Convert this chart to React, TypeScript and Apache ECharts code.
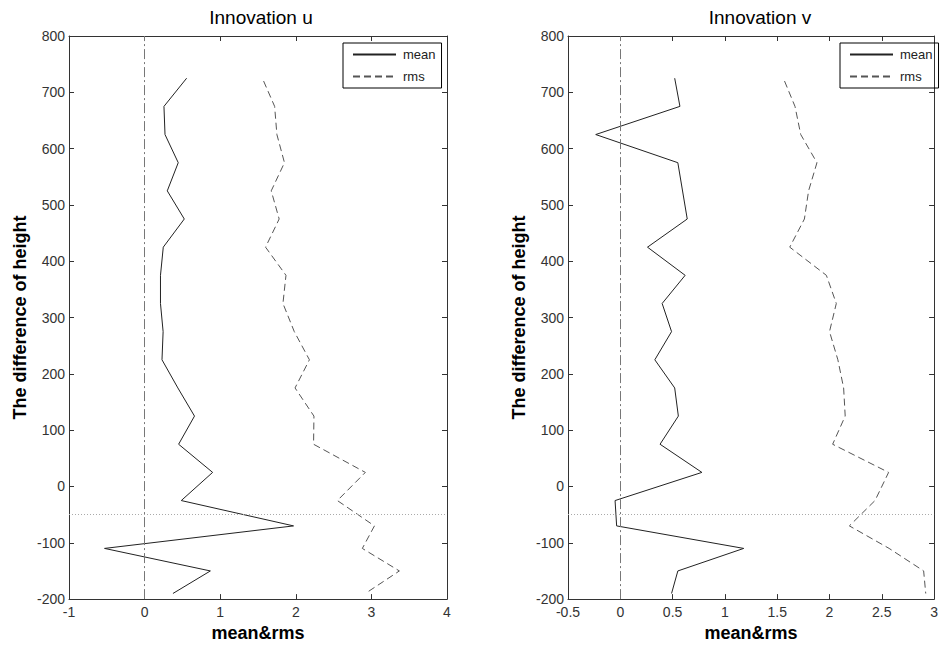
import React, { useEffect, useRef } from "react";
import * as echarts from "echarts";

// Heights (y) and values (x)
const meanHeightsU = [725, 675, 625, 575, 525, 475, 425, 375, 325, 275, 225, 175, 125, 75, 25, -25, -70, -110, -150, -190];
const meanU = [0.556, 0.256, 0.27, 0.445, 0.3, 0.525, 0.247, 0.21, 0.21, 0.245, 0.23, 0.44, 0.66, 0.45, 0.9, 0.485, 1.97, -0.53, 0.87, 0.375];
const rmsHeights = [720, 675, 625, 575, 525, 475, 425, 375, 325, 275, 225, 175, 125, 75, 25, -25, -70, -110, -150, -190];
const rmsU = [1.574, 1.72, 1.75, 1.85, 1.675, 1.78, 1.6, 1.87, 1.83, 1.98, 2.18, 1.99, 2.24, 2.235, 2.92, 2.55, 3.04, 2.88, 3.37, 2.92];

const meanHeightsV = [725, 675, 625, 575, 475, 425, 375, 325, 275, 225, 175, 125, 75, 25, -25, -70, -110, -150, -190];
const meanV = [0.52, 0.57, -0.235, 0.55, 0.64, 0.26, 0.62, 0.4, 0.49, 0.33, 0.52, 0.555, 0.38, 0.78, -0.05, -0.035, 1.18, 0.55, 0.49];
const rmsV = [1.57, 1.67, 1.725, 1.88, 1.8, 1.76, 1.62, 1.97, 2.065, 2.0, 2.08, 2.135, 2.15, 2.03, 2.565, 2.435, 2.19, 2.57, 2.9, 2.92];

const titles = ["Innovation u", "Innovation v"];
const xNameLabel = "mean&rms";
const yNameLabel = "The difference of height";
const legendNames = ["mean", "rms"];
const zeroLine = 0;
const refHeight = -50;

const pairs = (xs: number[], ys: number[]) => xs.map((x, i) => [x, ys[i]]);

const FONT = "Liberation Sans, Arial, sans-serif";

export default function App() {
  const ref = useRef<HTMLDivElement>(null);
  useEffect(() => {
    if (!ref.current) return;
    const chart = echarts.init(ref.current, undefined, { renderer: "svg" });
    const grids = [
      { left: 69, top: 36, width: 378, height: 567 },
      { left: 568, top: 36, width: 378, height: 567 },
    ];
    const xRanges = [
      { min: -1, max: 4, interval: 1 },
      { min: -0.5, max: 3, interval: 0.5 },
    ];
    const axisLine = { show: true, onZero: false, lineStyle: { color: "#333", width: 1 } };
    const tick = { show: true, inside: true, length: 5, lineStyle: { color: "#333" } };
    const xAxes: any[] = [];
    const yAxes: any[] = [];
    [0, 1].forEach((g) => {
      xAxes.push({
        type: "value", gridIndex: g, position: "bottom", ...xRanges[g],
        axisLine, axisTick: tick, splitLine: { show: false },
        axisLabel: { color: "#333", fontSize: 14, lineHeight: 14, fontFamily: FONT, margin: 6 },
        name: xNameLabel, nameLocation: "middle", nameGap: 20,
        nameTextStyle: { fontSize: 18, fontWeight: "bold", color: "#000", fontFamily: FONT },
      });
      xAxes.push({
        type: "value", gridIndex: g, position: "top", ...xRanges[g],
        axisLine, axisTick: tick, splitLine: { show: false }, axisLabel: { show: false },
      });
      yAxes.push({
        type: "value", gridIndex: g, position: "left", min: -200, max: 800, interval: 100,
        axisLine, axisTick: tick, splitLine: { show: false },
        axisLabel: { color: "#333", fontSize: 14, lineHeight: 12, fontFamily: FONT, margin: 4 },
        name: yNameLabel, nameLocation: "middle", nameGap: 40,
        nameTextStyle: { fontSize: 18, fontWeight: "bold", color: "#000", fontFamily: FONT },
      });
      yAxes.push({
        type: "value", gridIndex: g, position: "right", min: -200, max: 800, interval: 100,
        axisLine, axisTick: tick, splitLine: { show: false }, axisLabel: { show: false },
      });
    });
    const markLine = {
      silent: true,
      symbol: ["none", "none"],
      label: { show: false },
      data: [
        { xAxis: zeroLine, lineStyle: { color: "#777", width: 1, type: [10, 3, 2, 3] } },
        { yAxis: refHeight, lineStyle: { color: "#aaa", width: 1, type: [1, 2] } },
      ],
    };
    const meanStyle = { color: "#222", width: 1, type: "solid" };
    const rmsStyle = { color: "#555", width: 1, type: [7, 4] };
    const series: any[] = [
      { name: legendNames[0], type: "line", xAxisIndex: 0, yAxisIndex: 0, data: pairs(meanU, meanHeightsU), symbol: "none", showSymbol: false, lineStyle: meanStyle, itemStyle: { color: "#222" }, markLine },
      { name: legendNames[1], type: "line", xAxisIndex: 0, yAxisIndex: 0, data: pairs(rmsU, rmsHeights), symbol: "none", showSymbol: false, lineStyle: rmsStyle, itemStyle: { color: "#555" } },
      { name: legendNames[0], type: "line", xAxisIndex: 2, yAxisIndex: 2, data: pairs(meanV, meanHeightsV), symbol: "none", showSymbol: false, lineStyle: meanStyle, itemStyle: { color: "#222" }, markLine },
      { name: legendNames[1], type: "line", xAxisIndex: 2, yAxisIndex: 2, data: pairs(rmsV, rmsHeights), symbol: "none", showSymbol: false, lineStyle: rmsStyle, itemStyle: { color: "#555" } },
    ];
    const legendBase = {
      orient: "vertical", top: 43, data: legendNames,
      itemStyle: { color: "rgba(0,0,0,0)", borderWidth: 0, opacity: 0 },
      borderColor: "#000", borderWidth: 1, padding: [5, 6, 5, 9], itemGap: 9,
      itemWidth: 43, itemHeight: 14, selectedMode: false,
      textStyle: { fontSize: 13, color: "#222", fontFamily: FONT, padding: [0, 0, 0, 2] },
    };
    chart.setOption({
      animation: false,
      backgroundColor: "#fff",
      title: [
        { text: titles[0], left: 256, top: 3, textAlign: "center", textStyle: { fontSize: 19, fontWeight: "normal", color: "#000", fontFamily: FONT } },
        { text: titles[1], left: 755, top: 3, textAlign: "center", textStyle: { fontSize: 19, fontWeight: "normal", color: "#000", fontFamily: FONT } },
      ],
      legend: [
        { ...legendBase, left: 343 },
        { ...legendBase, left: 840 },
      ],
      grid: grids,
      xAxis: xAxes,
      yAxis: yAxes,
      series,
    });
    return () => chart.dispose();
  }, []);
  return <div ref={ref} style={{ position: "fixed", left: 0, top: 0, width: 941, height: 647 }} />;
}
